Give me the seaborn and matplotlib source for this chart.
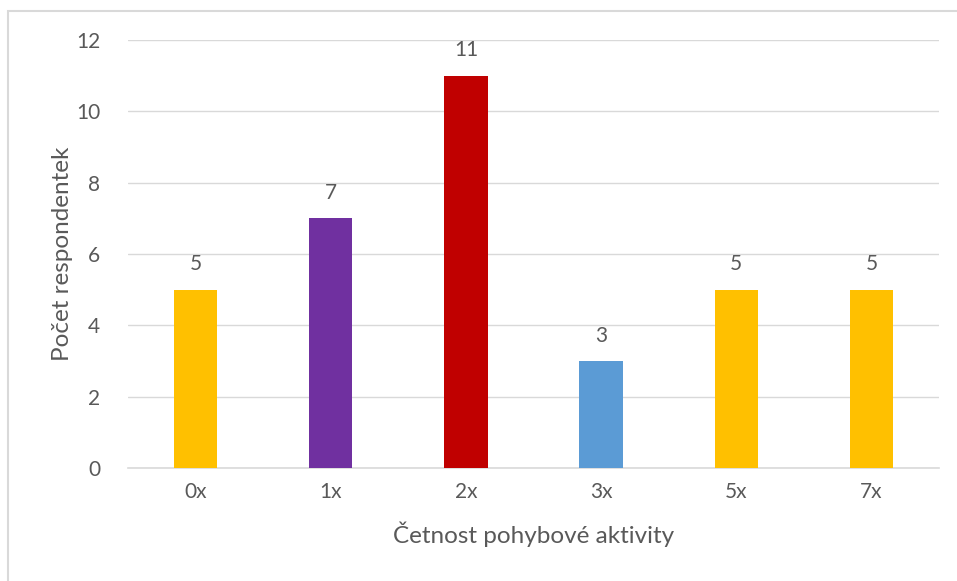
import matplotlib
matplotlib.use("Agg")
import matplotlib.pyplot as plt
import seaborn as sns
import pandas as pd
from matplotlib.patches import Rectangle

categories = ["0x", "1x", "2x", "3x", "5x", "7x"]
counts = [5, 7, 11, 3, 5, 5]
bar_colors = ["#FFC000", "#7030A0", "#C00000", "#5B9BD5", "#FFC000", "#FFC000"]
y_ticks = [0, 2, 4, 6, 8, 10, 12]

df = pd.DataFrame({"kategorie": categories, "pocet": counts})

sns.set_theme(style="white")
plt.rcParams["font.family"] = ["Lato", "DejaVu Sans"]
text_color = "#595959"

fig = plt.figure(figsize=(9.57, 5.81), dpi=100)
ax = fig.add_axes([128 / 957, 1 - 468 / 581, 811 / 957, 428 / 581])

sns.barplot(data=df, x="kategorie", y="pocet", hue="kategorie",
            palette=bar_colors, legend=False, width=0.32, ax=ax,
            saturation=1, linewidth=0, zorder=3)

ax.set_ylim(0, 12)
ax.set_yticks(y_ticks)
ax.set_xlim(-0.5, len(categories) - 0.5)
ax.grid(axis="y", color="#D9D9D9", linewidth=1.0, zorder=0)
ax.grid(axis="x", visible=False)
for side in ["left", "right", "top"]:
    ax.spines[side].set_visible(False)
ax.spines["bottom"].set_color("#D9D9D9")
ax.spines["bottom"].set_linewidth(1.2)
ax.tick_params(axis="both", length=0, labelsize=15, colors=text_color)
ax.tick_params(axis="x", pad=10)
ax.tick_params(axis="y", pad=20)

ax.set_xlabel("Četnost pohybové aktivity", fontsize=17.5, color=text_color, labelpad=14)
ax.set_ylabel("Počet respondentek", fontsize=17.5, color=text_color, labelpad=2)

for i, v in enumerate(counts):
    ax.annotate(str(v), (i, v), xytext=(0, 11), textcoords="offset points",
                ha="center", va="bottom", fontsize=15, color=text_color)

# outer frame of the chart area
fig.patches.append(Rectangle((8 / 957, -0.1), 1.2, (1 - 11 / 581) + 0.1,
                             transform=fig.transFigure, fill=False,
                             edgecolor="#D9D9D9", linewidth=1.5))

fig.savefig("out.png", dpi=100, facecolor="white")
